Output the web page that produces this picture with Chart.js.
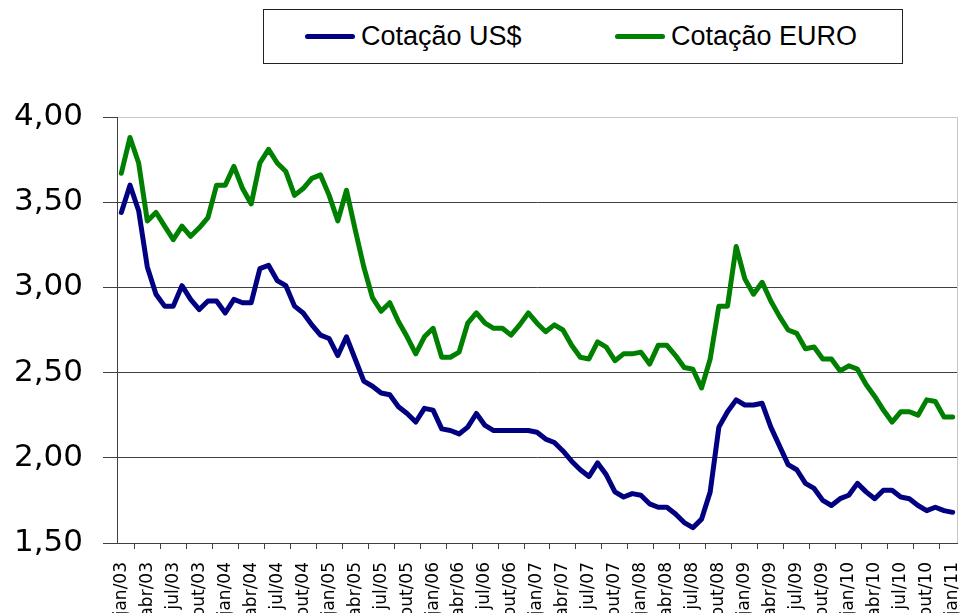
<!DOCTYPE html>
<html lang="pt-BR">
<head>
<meta charset="utf-8">
<title>Cotação US$ e EURO</title>
<script src="https://cdn.jsdelivr.net/npm/chart.js@4.4.1/dist/chart.umd.min.js"></script>
<style>
  html, body { margin: 0; padding: 0; background: #fff; overflow: hidden; }
  #wrap { position: relative; width: 962px; height: 613px; }
  #chart { position: absolute; left: 0; top: 0; }
  .legend {
    position: absolute; left: 263px; top: 9px; width: 638px; height: 53px;
    border: 1px solid #222; background: #fff;
    font-family: "Liberation Sans", Arial, sans-serif; font-size: 27px; color: #000;
  }
  .legend-item { position: absolute; top: 0; height: 53px; display: flex; align-items: center; white-space: nowrap; }
  .legend-item .swatch { display: inline-block; width: 50px; height: 5px; border-radius: 3px; margin-right: 6px; }
</style>
</head>
<body>
<div id="wrap">
  <canvas id="chart" width="962" height="613"></canvas>
  <div class="legend">
    <div class="legend-item" style="left: 41px;"><span class="swatch" style="background:#000080"></span>Cotação US$</div>
    <div class="legend-item" style="left: 351px;"><span class="swatch" style="background:#008000"></span>Cotação EURO</div>
  </div>
</div>
<script>
const meses = [
  "jan/03", "fev/03", "mar/03", "abr/03", "mai/03", "jun/03", "jul/03", "ago/03", "set/03", "out/03", "nov/03", "dez/03",
  "jan/04", "fev/04", "mar/04", "abr/04", "mai/04", "jun/04", "jul/04", "ago/04", "set/04", "out/04", "nov/04", "dez/04",
  "jan/05", "fev/05", "mar/05", "abr/05", "mai/05", "jun/05", "jul/05", "ago/05", "set/05", "out/05", "nov/05", "dez/05",
  "jan/06", "fev/06", "mar/06", "abr/06", "mai/06", "jun/06", "jul/06", "ago/06", "set/06", "out/06", "nov/06", "dez/06",
  "jan/07", "fev/07", "mar/07", "abr/07", "mai/07", "jun/07", "jul/07", "ago/07", "set/07", "out/07", "nov/07", "dez/07",
  "jan/08", "fev/08", "mar/08", "abr/08", "mai/08", "jun/08", "jul/08", "ago/08", "set/08", "out/08", "nov/08", "dez/08",
  "jan/09", "fev/09", "mar/09", "abr/09", "mai/09", "jun/09", "jul/09", "ago/09", "set/09", "out/09", "nov/09", "dez/09",
  "jan/10", "fev/10", "mar/10", "abr/10", "mai/10", "jun/10", "jul/10", "ago/10", "set/10", "out/10", "nov/10", "dez/10",
  "jan/11",
];

const cotacaoUSD = [
  3.44, 3.60, 3.45, 3.12, 2.96, 2.89, 2.89, 3.01, 2.93, 2.87, 2.92, 2.92,
  2.85, 2.93, 2.91, 2.91, 3.11, 3.13, 3.04, 3.01, 2.89, 2.85, 2.78, 2.72,
  2.70, 2.60, 2.71, 2.58, 2.45, 2.42, 2.38, 2.37, 2.30, 2.26, 2.21, 2.29,
  2.28, 2.17, 2.16, 2.14, 2.18, 2.26, 2.19, 2.16, 2.16, 2.16, 2.16, 2.16,
  2.15, 2.11, 2.09, 2.04, 1.98, 1.93, 1.89, 1.97, 1.90, 1.80, 1.77, 1.79,
  1.78, 1.73, 1.71, 1.71, 1.67, 1.62, 1.59, 1.64, 1.80, 2.18, 2.27, 2.34,
  2.31, 2.31, 2.32, 2.18, 2.07, 1.96, 1.93, 1.85, 1.82, 1.75, 1.72, 1.76,
  1.78, 1.85, 1.80, 1.76, 1.81, 1.81, 1.77, 1.76, 1.72, 1.69, 1.71, 1.69,
  1.68,
];

const cotacaoEURO = [
  3.67, 3.88, 3.73, 3.39, 3.44, 3.36, 3.28, 3.36, 3.30, 3.35, 3.41, 3.60,
  3.60, 3.71, 3.58, 3.49, 3.73, 3.81, 3.73, 3.68, 3.54, 3.58, 3.64, 3.66,
  3.54, 3.39, 3.57, 3.34, 3.12, 2.94, 2.86, 2.91, 2.80, 2.71, 2.61, 2.71,
  2.76, 2.59, 2.59, 2.62, 2.79, 2.85, 2.79, 2.76, 2.76, 2.72, 2.78, 2.85,
  2.79, 2.74, 2.78, 2.75, 2.66, 2.59, 2.58, 2.68, 2.65, 2.57, 2.61, 2.61,
  2.62, 2.55, 2.66, 2.66, 2.60, 2.53, 2.52, 2.41, 2.58, 2.89, 2.89, 3.24,
  3.05, 2.96, 3.03, 2.92, 2.83, 2.75, 2.73, 2.64, 2.65, 2.58, 2.58, 2.51,
  2.54, 2.52, 2.43, 2.36, 2.28, 2.21, 2.27, 2.27, 2.25, 2.34, 2.33, 2.24,
  2.24,
];

const AXIS_COLOR = "#404040";
const FRAME_COLOR = "#c8c8c8";

// light grey frame on the right edge of the plot area
const plotFrame = {
  id: "plotFrame",
  beforeDatasetsDraw(chart) {
    const { ctx, chartArea: a } = chart;
    ctx.save();
    ctx.strokeStyle = FRAME_COLOR;
    ctx.lineWidth = 1;
    ctx.beginPath();
    ctx.moveTo(Math.round(a.right) + 0.5, a.top);
    ctx.lineTo(Math.round(a.right) + 0.5, a.bottom);
    ctx.stroke();
    ctx.restore();
  },
};

function formatBR(v) {
  return Number(v).toFixed(2).replace(".", ",");
}

function makeLine(label, data, color) {
  return {
    label,
    data,
    borderColor: color,
    backgroundColor: color,
    borderWidth: 5,
    borderJoinStyle: "round",
    borderCapStyle: "round",
    pointRadius: 0,
    tension: 0,
    fill: false,
  };
}

new Chart(document.getElementById("chart"), {
  type: "line",
  data: {
    labels: meses,
    datasets: [
      makeLine("Cotação US$", cotacaoUSD, "#000080"),
      makeLine("Cotação EURO", cotacaoEURO, "#008000"),
    ],
  },
  options: {
    responsive: false,
    animation: false,
    layout: { padding: { top: 117, right: 5, left: 0, bottom: 0 } },
    plugins: {
      legend: { display: false },
      tooltip: { enabled: false },
    },
    scales: {
      x: {
        offset: true,
        grid: { drawOnChartArea: false, offset: true, tickLength: 6, color: AXIS_COLOR },
        border: { color: AXIS_COLOR },
        ticks: {
          autoSkip: false,
          minRotation: 90,
          maxRotation: 90,
          padding: 13,
          color: "#000",
          font: { family: "DejaVu Sans", size: 17 },
          callback(value, index) {
            return index % 3 === 0 ? this.getLabelForValue(value) : null;
          },
        },
        afterFit(scale) {
          scale.height = 70;
          scale.paddingLeft = 0;
          scale.paddingRight = 0;
        },
      },
      y: {
        min: 1.5,
        max: 4,
        grid: {
          color: (ctx) => (ctx.tick && ctx.tick.value === 4 ? FRAME_COLOR : AXIS_COLOR),
          tickColor: AXIS_COLOR,
          tickLength: 14,
        },
        border: { color: AXIS_COLOR },
        ticks: {
          stepSize: 0.5,
          padding: 20,
          color: "#000",
          font: { family: "DejaVu Sans", size: 31 },
          callback: (v) => formatBR(v),
        },
        afterFit(scale) {
          scale.width = 117;
        },
      },
    },
  },
  plugins: [plotFrame],
});
</script>
</body>
</html>
